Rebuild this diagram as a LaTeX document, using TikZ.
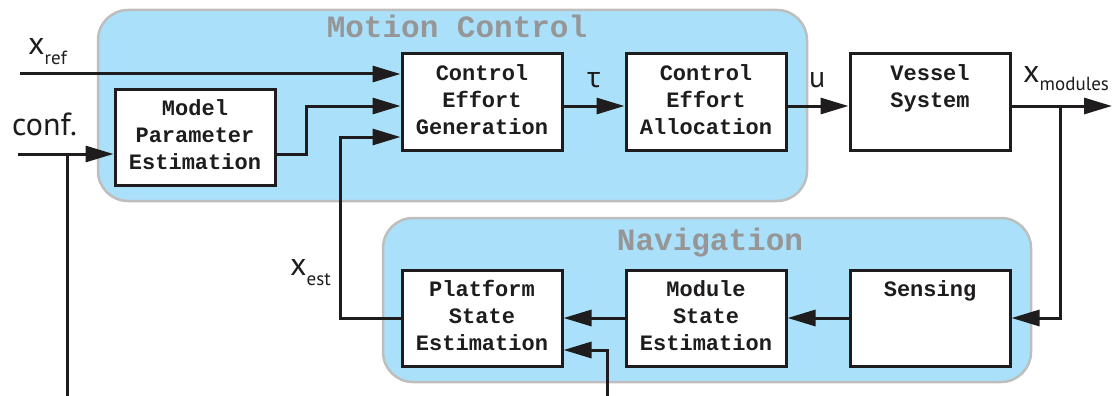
\documentclass[tikz,border=0pt]{standalone}
\usepackage{fontspec}
\setmainfont{PT Sans}
\setmonofont{Liberation Mono}
\newfontfamily\greekfont{Noto Sans}
\usetikzlibrary{arrows.meta}
\definecolor{panelfill}{RGB}{170,224,250}
\definecolor{panelline}{RGB}{190,190,190}
\definecolor{titlegray}{RGB}{150,150,150}
\definecolor{ink}{RGB}{30,28,28}
\begin{document}
\begin{tikzpicture}[x=1pt,y=-1pt,
  panel/.style={draw=panelline, line width=2.5pt, fill=panelfill, rounded corners=30pt},
  blk/.style={draw=ink, line width=3pt, fill=white, minimum width=160pt, minimum height=96pt, inner sep=0pt},
  blktext/.style={font=\ttfamily\bfseries\fontsize{22}{27}\selectfont, text=ink, align=center, anchor=base, inner sep=0pt},
  paneltitle/.style={font=\ttfamily\bfseries\fontsize{31}{31}\selectfont, text=titlegray, anchor=base, inner sep=0pt},
  sig/.style={line width=3pt, draw=ink},
  arr/.style={sig, -{Triangle[length=28pt,width=16pt]}},
  lab/.style={anchor=base west, inner sep=0pt, text=ink},
]
\useasboundingbox (0,0) rectangle (1119,396);

% background panels
\draw[panel] (98,10) rectangle (807,201);
\draw[panel] (383,218) rectangle (1031,382);
\node[paneltitle] (mctitle) at (457,38) {Motion Control};
\node[paneltitle] (navtitle) at (710,250) {Navigation};

% blocks
\node[blk] (MPE) at (195,137.5) {};
\node[blk] (CEG) at (482,102) {};
\node[blk] (CEA) at (706,102) {};
\node[blk] (VS)  at (930,102) {};
\node[blk] (PSE) at (482,318) {};
\node[blk] (MSE) at (706,318) {};
\node[blk] (SEN) at (930,318) {};

% block captions (anchored on the baseline of their last line)
\node[blktext] (MPEt) at (195,169) {Model\\Parameter\\Estimation};
\node[blktext] (CEGt) at (482,134) {Control\\Effort\\Generation};
\node[blktext] (CEAt) at (706,134) {Control\\Effort\\Allocation};
\node[blktext] (VSt)  at (930,107) {Vessel\\System};
\node[blktext] (PSEt) at (482,350) {Platform\\State\\Estimation};
\node[blktext] (MSEt) at (706,350) {Module\\State\\Estimation};
\node[blktext] (SENt) at (930,296) {Sensing};

% signal end points and bends
\coordinate (xrefin) at (20,74);
\coordinate (confin) at (18,154);
\coordinate (confdown) at (67,396);
\coordinate (mpebend) at (306,154);
\coordinate (mpeup) at (306,106);
\coordinate (estbend) at (340,318);
\coordinate (estup) at (340,137);
\coordinate (xmodout) at (1112,106);
\coordinate (fbtop) at (1060,106);
\coordinate (fbbot) at (1060,318);
\coordinate (extin) at (607,396);
\coordinate (extup) at (607,350);

% connectors
\draw[arr] (xrefin) -- (xrefin -| CEG.west);
\draw[arr] (confin) -- (confin -| MPE.west);
\draw[sig] (confin -| confdown) -- (confdown);
\draw[arr] (confin -| MPE.east) -- (mpebend) -- (mpeup) -- (mpeup -| CEG.west);
\draw[arr] (PSE.west) -- (estbend) -- (estup) -- (estup -| CEG.west);
\draw[arr] (mpeup -| CEG.east) -- (mpeup -| CEA.west);
\draw[arr] (mpeup -| CEA.east) -- (mpeup -| VS.west);
\draw[arr] (mpeup -| VS.east) -- (xmodout);
\draw[arr] (fbtop) -- (fbbot) -- (SEN.east);
\draw[arr] (SEN.west) -- (MSE.east);
\draw[arr] (MSE.west) -- (PSE.east);
\draw[arr] (extin) -- (extup) -- (extup -| PSE.east);

% signal labels
\node[lab] (xreflab) at (28,55) {\fontsize{32}{32}\selectfont x\raisebox{-10pt}{\fontsize{19}{19}\selectfont ref}};
\node[lab] (conflab) at (12,135) {\fontsize{32}{32}\selectfont conf.};
\node[lab] (xestlab) at (290,275) {\fontsize{32}{32}\selectfont x\raisebox{-10pt}{\fontsize{19}{19}\selectfont est}};
\node[lab] (xmodlab) at (1023,82) {\fontsize{32}{32}\selectfont x\raisebox{-8pt}{\fontsize{19}{19}\selectfont modules}};
\node[lab] (taulab) at (587,88) {\greekfont\fontsize{28}{28}\selectfont τ};
\node[lab] (ulab) at (809,88) {\fontsize{30}{30}\selectfont u};
\end{tikzpicture}
\end{document}
